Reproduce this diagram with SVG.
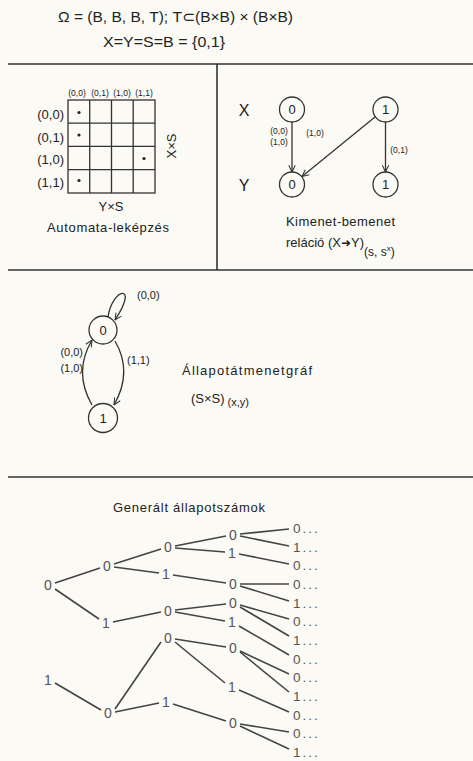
<svg xmlns="http://www.w3.org/2000/svg" width="473" height="761" viewBox="0 0 473 761">
<style>
text { font-family: "Liberation Sans", "DejaVu Sans", sans-serif; fill: #222; }
.t15 { font-size: 15px; }
.lab { font-size: 13px; }
.sm { font-size: 11px; }
.xs { font-size: 8.5px; }
.mid { text-anchor: middle; }
.end { text-anchor: end; }
.tree text { font-size: 14px; fill: #555; text-anchor: middle; }
.tree text.leaf { text-anchor: start; letter-spacing: 2px; font-size: 13.5px; }
.sep { stroke: #333; stroke-width: 1.6; fill: none; }
.grid { stroke: #333; stroke-width: 1.3; fill: none; }
.edge { stroke: #333; stroke-width: 1.3; fill: none; }
.st { fill: none; stroke: #333; stroke-width: 1.3; }
.tl { stroke: #444; stroke-width: 1.6; }
</style>
<defs>
<marker id="arr" viewBox="0 0 10 10" refX="9.5" refY="5" markerWidth="8" markerHeight="8" markerUnits="userSpaceOnUse" orient="auto">
<path d="M1,1 L9.5,5 L1,9" fill="none" stroke="#333" stroke-width="1.3"/>
</marker>
</defs>
<rect width="473" height="761" fill="#fbfaf5"/>

<g id="title">
<text x="58" y="22" class="t15" textLength="235" lengthAdjust="spacingAndGlyphs">Ω = (B, B, B, T); T⊂(B×B) × (B×B)</text>
<text x="103" y="47" class="t15" textLength="122" lengthAdjust="spacingAndGlyphs">X=Y=S=B = {0,1}</text>
</g>

<g id="separators">
<line class="sep" x1="8" y1="64" x2="473" y2="64"/>
<line class="sep" x1="217" y1="64" x2="217" y2="270"/>
<line class="sep" x1="8" y1="270" x2="473" y2="270"/>
<line class="sep" x1="8" y1="477" x2="473" y2="477"/>
</g>

<g id="automata-map">
<rect class="grid" x="68" y="100" width="87" height="93"/>
<path class="grid" d="M89.7,100V193M111.5,100V193M133.2,100V193M68,123.2H155M68,146.4H155M68,169.6H155"/>
<text class="xs mid" x="77" y="96">(0,0)</text>
<text class="xs mid" x="100" y="96">(0,1)</text>
<text class="xs mid" x="122" y="96">(1,0)</text>
<text class="xs mid" x="144" y="96">(1,1)</text>
<text class="lab end" x="64" y="119">(0,0)</text>
<text class="lab end" x="64" y="142">(0,1)</text>
<text class="lab end" x="64" y="164">(1,0)</text>
<text class="lab end" x="64" y="187">(1,1)</text>
<circle cx="79" cy="112.5" r="1.6" fill="#222"/>
<circle cx="79" cy="135" r="1.6" fill="#222"/>
<circle cx="144" cy="158.5" r="1.6" fill="#222"/>
<circle cx="79" cy="180.5" r="1.6" fill="#222"/>
<text class="lab mid" transform="translate(171,146) rotate(-90)" y="4.5">X×S</text>
<text class="lab mid" x="111" y="211">Y×S</text>
<text class="lab mid" x="108" y="232" textLength="122">Automata-leképzés</text>
</g>

<g id="io-relation">
<text x="244" y="116" font-size="16" class="mid">X</text>
<text x="244" y="191" font-size="16" class="mid">Y</text>
<g id="x0"><circle class="st" cx="292" cy="109.5" r="12.5"/><text class="lab mid" x="292" y="114">0</text></g>
<g id="x1"><circle class="st" cx="385.5" cy="109.5" r="12.5"/><text class="lab mid" x="385.5" y="114">1</text></g>
<g id="y0"><circle class="st" cx="292" cy="184.5" r="12.5"/><text class="lab mid" x="292" y="189">0</text></g>
<g id="y1"><circle class="st" cx="385.5" cy="184.5" r="12.5"/><text class="lab mid" x="385.5" y="189">1</text></g>
<text class="xs mid" x="279" y="134">(0,0)</text>
<text class="xs mid" x="279" y="145">(1,0)</text>
<text class="xs mid" x="315" y="136">(1,0)</text>
<text class="xs mid" x="399" y="153">(0,1)</text>
<text class="lab" x="286" y="226" textLength="109">Kimenet-bemenet</text>
<text class="lab" x="286" y="247">reláció (X<tspan font-family="DejaVu Sans" font-size="12">➜</tspan>Y)<tspan font-size="12" dy="9">(s, s</tspan><tspan font-size="8" dy="-5">x</tspan><tspan font-size="12" dy="5">)</tspan></text>
</g>

<g id="state-graph">
<g id="s0"><circle class="st" cx="103" cy="330" r="14"/><text class="lab mid" x="103" y="335">0</text></g>
<g id="s1"><circle class="st" cx="103" cy="418" r="14.5"/><text class="lab mid" x="103" y="423">1</text></g>
<text class="sm" x="137" y="299">(0,0)</text>
<text class="sm end" x="83" y="356">(0,0)</text>
<text class="sm end" x="83" y="372">(1,0)</text>
<text class="sm" x="127" y="364">(1,1)</text>
<text class="lab" x="182" y="375" font-size="14" textLength="130">Állapotátmenetgráf</text>
<text class="lab" x="191" y="403" font-size="14">(S×S)<tspan font-size="11" dx="3" dy="3">(x,y)</tspan></text>
</g>

<g id="connectors">
<line class="edge" x1="292" y1="122" x2="292" y2="172" marker-end="url(#arr)"/>
<line class="edge" x1="385.5" y1="122" x2="385.5" y2="172" marker-end="url(#arr)"/>
<line class="edge" x1="375" y1="117" x2="302" y2="176.5" marker-end="url(#arr)"/>
<path class="edge" d="M108,317 C112,288 140,282 115,320" marker-end="url(#arr)"/>
<path class="edge" d="M92,405 Q73,372 92,340" marker-end="url(#arr)"/>
<path class="edge" d="M115,341 Q133,372 114,405" marker-end="url(#arr)"/>
</g>

<g id="tree-title"><text class="lab" x="113" y="512" font-size="14" textLength="152">Generált állapotszámok</text></g>

<g id="tree-edges" class="tl">
<line x1="55" y1="583" x2="100" y2="568"/>
<line x1="55" y1="589" x2="99" y2="619"/>
<line x1="55" y1="683" x2="101" y2="710"/>
<line x1="114" y1="564" x2="161" y2="549"/>
<line x1="114" y1="567" x2="159" y2="573"/>
<line x1="113" y1="622" x2="161" y2="612"/>
<line x1="115" y1="709" x2="161" y2="642"/>
<line x1="115" y1="712" x2="159" y2="703"/>
<line x1="175" y1="546" x2="226" y2="536"/>
<line x1="175" y1="548" x2="225" y2="552"/>
<line x1="173" y1="575" x2="226" y2="583"/>
<line x1="175" y1="610" x2="226" y2="604"/>
<line x1="175" y1="612" x2="225" y2="621"/>
<line x1="175" y1="639" x2="226" y2="647"/>
<line x1="175" y1="642" x2="225" y2="683"/>
<line x1="173" y1="704" x2="226" y2="721"/>
<line x1="240" y1="534" x2="289" y2="529"/>
<line x1="240" y1="536" x2="289" y2="546"/>
<line x1="239" y1="554" x2="289" y2="564"/>
<line x1="240" y1="584" x2="289" y2="584"/>
<line x1="240" y1="586" x2="289" y2="601"/>
<line x1="240" y1="605" x2="289" y2="619"/>
<line x1="240" y1="607" x2="289" y2="636"/>
<line x1="239" y1="626" x2="289" y2="655"/>
<line x1="240" y1="651" x2="289" y2="674"/>
<line x1="240" y1="652" x2="289" y2="692"/>
<line x1="239" y1="690" x2="289" y2="712"/>
<line x1="240" y1="724" x2="289" y2="732"/>
<line x1="240" y1="726" x2="289" y2="749"/>
</g>

<g class="tree">
<g id="r0"><text x="48" y="590">0</text></g>
<g id="r1"><text x="48" y="685">1</text></g>
<g id="a"><text x="107" y="571">0</text></g>
<g id="b"><text x="106" y="628">1</text></g>
<g id="c"><text x="108" y="718">0</text></g>
<g id="d"><text x="168" y="552">0</text></g>
<g id="e"><text x="166" y="579">1</text></g>
<g id="f"><text x="168" y="616">0</text></g>
<g id="g"><text x="168" y="643">0</text></g>
<g id="h"><text x="166" y="707">1</text></g>
<g id="i"><text x="233" y="540">0</text></g>
<g id="j"><text x="232" y="558">1</text></g>
<g id="k"><text x="233" y="589">0</text></g>
<g id="l"><text x="233" y="608">0</text></g>
<g id="m"><text x="232" y="627">1</text></g>
<g id="n"><text x="233" y="653">0</text></g>
<g id="o"><text x="232" y="692">1</text></g>
<g id="p"><text x="233" y="728">0</text></g>
<g id="leaf1"><text class="leaf" x="293" y="533">0...</text></g>
<g id="leaf2"><text class="leaf" x="293" y="551.7">1...</text></g>
<g id="leaf3"><text class="leaf" x="293" y="570.3">0...</text></g>
<g id="leaf4"><text class="leaf" x="293" y="589">0...</text></g>
<g id="leaf5"><text class="leaf" x="293" y="607.7">1...</text></g>
<g id="leaf6"><text class="leaf" x="293" y="626.3">0...</text></g>
<g id="leaf7"><text class="leaf" x="293" y="645">1...</text></g>
<g id="leaf8"><text class="leaf" x="293" y="663.7">0...</text></g>
<g id="leaf9"><text class="leaf" x="293" y="682.3">0...</text></g>
<g id="leaf10"><text class="leaf" x="293" y="701">1...</text></g>
<g id="leaf11"><text class="leaf" x="293" y="719.7">0...</text></g>
<g id="leaf12"><text class="leaf" x="293" y="738.3">0...</text></g>
<g id="leaf13"><text class="leaf" x="293" y="757">1...</text></g>
</g>
</svg>
